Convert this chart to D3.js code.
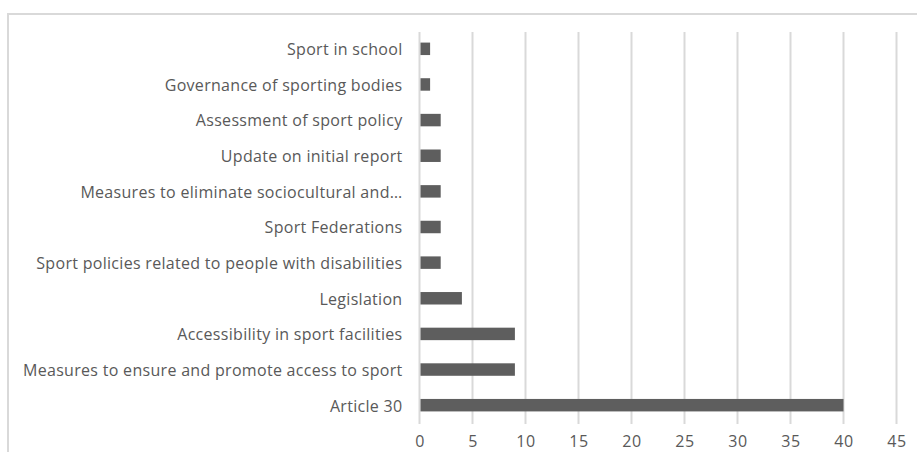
<!DOCTYPE html>
<html>
<head>
<meta charset="utf-8">
<script src="https://cdn.jsdelivr.net/npm/d3@7"></script>
<style>
  html, body { margin: 0; padding: 0; background: #fff; }
  svg { display: block; }
  text { font-family: "Open Sans", "Liberation Sans", sans-serif; fill: #595959; }
</style>
</head>
<body>
<svg id="chart" width="917" height="452"></svg>
<script>
// Topics and number of mentions, listed top to bottom
const categories = [
  "Sport in school",
  "Governance of sporting bodies",
  "Assessment of sport policy",
  "Update on initial report",
  "Measures to eliminate sociocultural and…",
  "Sport Federations",
  "Sport policies related to people with disabilities",
  "Legislation",
  "Accessibility in sport facilities",
  "Measures to ensure and promote access to sport",
  "Article 30"
];
const counts = [1, 1, 2, 2, 2, 2, 2, 4, 9, 9, 40];
const xTicks = [0, 5, 10, 15, 20, 25, 30, 35, 40, 45];

const svg = d3.select("#chart");

// outer chart frame (cut at right and bottom edges)
svg.append("rect")
  .attr("x", 8).attr("y", 14)
  .attr("width", 940).attr("height", 460)
  .attr("fill", "none")
  .attr("stroke", "#d9d9d9")
  .attr("stroke-width", 2);

const x = d3.scaleLinear().domain([0, 45]).range([419.5, 896.5]);
const y = d3.scaleBand().domain(categories).range([31, 423]).paddingInner(0.65).paddingOuter(0.325);

// vertical gridlines
svg.append("g")
  .selectAll("line")
  .data(xTicks)
  .join("line")
  .attr("x1", d => x(d)).attr("x2", d => x(d))
  .attr("y1", 32).attr("y2", 424)
  .attr("stroke", "#d9d9d9")
  .attr("stroke-width", 2);

// bars
svg.append("g")
  .selectAll("rect")
  .data(counts)
  .join("rect")
  .attr("x", x(0) + 1)
  .attr("y", (d, i) => y(categories[i]))
  .attr("width", d => x(d) - x(0) - 1)
  .attr("height", y.bandwidth())
  .attr("fill", "#5e5e5e");

// category labels
const yAxis = d3.axisLeft(y).tickSize(0).tickPadding(17);
const gy = svg.append("g").attr("transform", `translate(${x(0)},0)`).call(yAxis);
gy.select(".domain").remove();
gy.selectAll("text")
  .attr("font-size", 16)
  .attr("letter-spacing", 0.3)
  .attr("font-family", null)
  .attr("fill", "#595959")
  .attr("dy", "0.4em");

// value axis labels
const xAxis = d3.axisBottom(x).tickValues(xTicks).tickSize(0).tickPadding(0);
const gx = svg.append("g").attr("transform", "translate(0,436)").call(xAxis);
gx.select(".domain").remove();
gx.selectAll("text")
  .attr("font-size", 16)
  .attr("letter-spacing", 0.5)
  .attr("font-family", null)
  .attr("fill", "#595959");
</script>
</body>
</html>
